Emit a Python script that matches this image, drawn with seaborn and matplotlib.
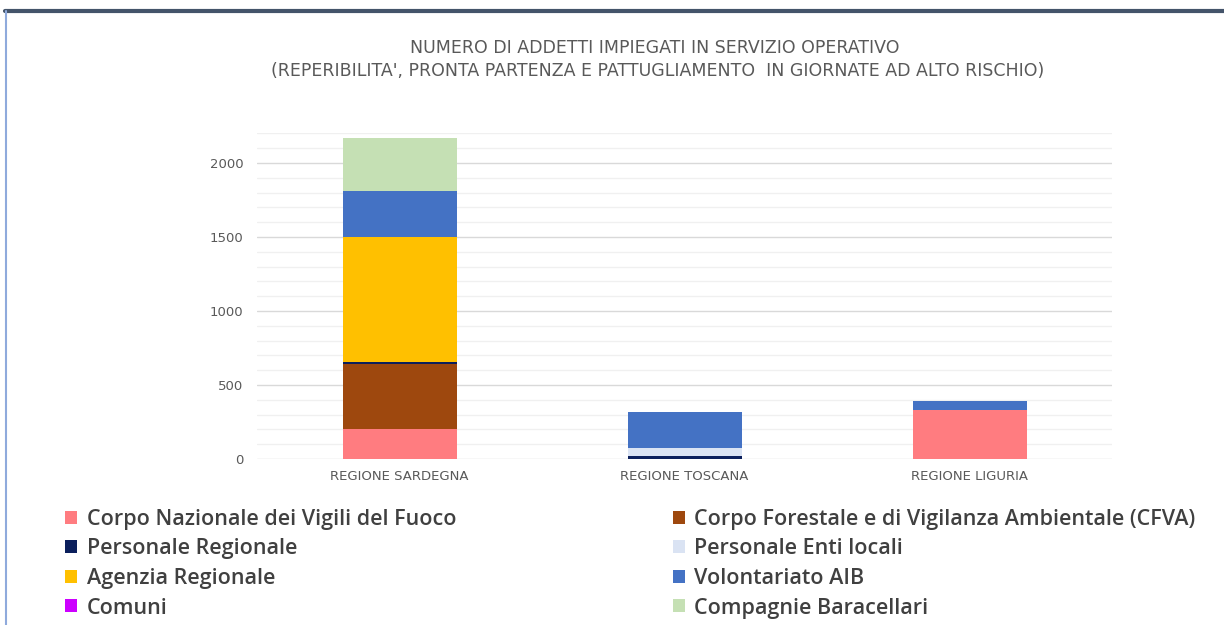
import numpy as np
import pandas as pd
import matplotlib
matplotlib.use("Agg")
import matplotlib.pyplot as plt
from matplotlib.patches import Patch
from matplotlib.lines import Line2D
from matplotlib.ticker import MultipleLocator
import seaborn as sns

# data
regions = ["REGIONE SARDEGNA", "REGIONE TOSCANA", "REGIONE LIGURIA"]
series = [
    "Corpo Nazionale dei Vigili del Fuoco",
    "Corpo Forestale e di Vigilanza Ambientale (CFVA)",
    "Personale Regionale",
    "Personale Enti locali",
    "Agenzia Regionale",
    "Volontariato AIB",
    "Comuni",
    "Compagnie Baracellari",
]
cnvvf = [205, 0, 328]
cfva = [435, 0, 0]
pers_regionale = [12, 18, 0]
pers_enti = [0, 54, 0]
agenzia = [848, 0, 0]
volontariato = [310, 243, 64]
comuni = [0, 5, 0]
baracellari = [357, 0, 0]

colors = ["#FF7C80", "#9E480E", "#0B1F5C", "#DAE3F3",
          "#FFC000", "#4472C4", "#CC00FF", "#C5E0B4"]

values = [cnvvf, cfva, pers_regionale, pers_enti, agenzia,
          volontariato, comuni, baracellari]
df = pd.DataFrame(np.array(values).T, index=regions, columns=series)
cum = df.cumsum(axis=1)

sns.set_style("white")
fig = plt.figure(figsize=(12.24, 6.25), dpi=100)
ax = fig.add_axes([0.21, 0.2656, 0.6985, 0.521])

# stacked bars: draw cumulative totals from the top layer down
for name, col in reversed(list(zip(series, colors))):
    d = pd.DataFrame({"region": regions, "value": cum[name].values})
    sns.barplot(data=d, x="region", y="value", order=regions, color=col,
                saturation=1, width=0.4, ax=ax, linewidth=0, zorder=3)

ax.set_xlim(-0.5, 2.5)
ax.set_ylim(0, 2200)
ax.yaxis.set_major_locator(MultipleLocator(500))
ax.yaxis.set_minor_locator(MultipleLocator(100))
ax.grid(which="major", axis="y", color="#D9D9D9", lw=1, zorder=0)
ax.grid(which="minor", axis="y", color="#F0F0F0", lw=1, zorder=0)
ax.set_axisbelow(True)
for s in ax.spines.values():
    s.set_visible(False)
ax.tick_params(axis="both", length=0, colors="#595959")
ax.tick_params(axis="y", labelsize=9.5, pad=10)
ax.tick_params(axis="x", pad=8)
for lbl in ax.get_xticklabels():
    lbl.set_fontsize(9.5)
ax.set_xlabel("")
ax.set_ylabel("")

fig.text(0.535, 0.923, "NUMERO DI ADDETTI IMPIEGATI IN SERVIZIO OPERATIVO",
         ha="center", va="center", fontsize=12.5, color="#595959")
fig.text(0.537, 0.887,
         "(REPERIBILITA', PRONTA PARTENZA E PATTUGLIAMENTO  IN GIORNATE AD ALTO RISCHIO)",
         ha="center", va="center", fontsize=12.5, color="#595959")

# legend, two columns (column-major order)
order = [0, 2, 4, 6, 1, 3, 5, 7]
handles = [Patch(facecolor=colors[i], edgecolor="none") for i in order]
labels = [series[i] for i in order]
leg = fig.legend(handles, labels, ncol=2, loc="upper left",
                 bbox_to_anchor=(0.0376, 0.217), frameon=False,
                 prop={"family": "Open Sans", "weight": "semibold", "size": 15.5},
                 handlelength=0.55, handleheight=0.55, handletextpad=0.45,
                 labelspacing=0.4, columnspacing=10.05, labelcolor="#404040")

# screenshot frame
fig.add_artist(Line2D([0.004, 1.0], [0.983, 0.983], color="#44546A", lw=3,
                      transform=fig.transFigure))
fig.add_artist(Line2D([0.005, 0.005], [0.0, 0.983], color="#8FAADC", lw=1.5,
                      transform=fig.transFigure))

fig.savefig("out.png", dpi=100)
